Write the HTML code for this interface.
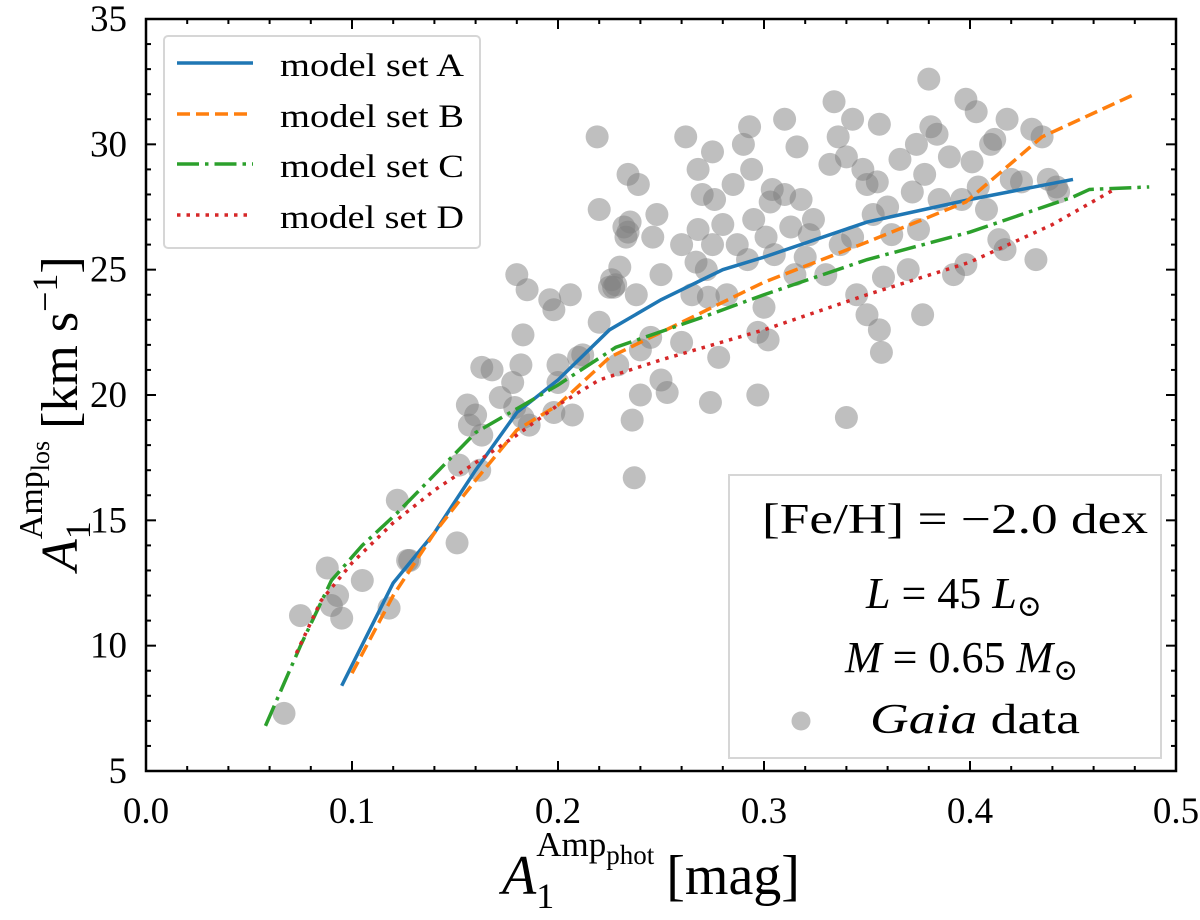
<!DOCTYPE html>
<html><head><meta charset="utf-8"><style>
html,body{margin:0;padding:0;background:#fff;}
svg{display:block;font-family:"Liberation Serif","DejaVu Serif",serif;}
</style></head><body>
<svg id="chart" width="1200" height="920" viewBox="0 0 1200 920">
<g id="plot"></g>
</svg>
<script>
const xTicks=[0.0,0.1,0.2,0.3,0.4,0.5];
const yTicks=[5,10,15,20,25,30,35];
const gaiaX=[0.067,0.075,0.088,0.09,0.093,0.095,0.105,0.118,0.122,0.127,0.128,0.151,0.152,0.156,0.157,0.16,0.162,0.163,0.163,0.168,0.172,0.178,0.179,0.18,0.182,0.183,0.183,0.185,0.186,0.196,0.198,0.198,0.2,0.206,0.207,0.21,0.212,0.2,0.219,0.22,0.22,0.225,0.226,0.227,0.228,0.229,0.23,0.232,0.233,0.234,0.235,0.234,0.236,0.237,0.238,0.239,0.24,0.24,0.245,0.246,0.248,0.25,0.25,0.253,0.26,0.26,0.262,0.265,0.267,0.268,0.268,0.27,0.272,0.273,0.274,0.275,0.275,0.276,0.278,0.28,0.282,0.285,0.287,0.29,0.292,0.293,0.294,0.295,0.297,0.297,0.3,0.301,0.302,0.303,0.304,0.305,0.31,0.31,0.313,0.315,0.316,0.318,0.32,0.322,0.324,0.33,0.332,0.334,0.336,0.337,0.34,0.34,0.343,0.343,0.345,0.348,0.35,0.35,0.353,0.355,0.356,0.356,0.357,0.358,0.36,0.362,0.366,0.37,0.372,0.374,0.375,0.377,0.378,0.38,0.381,0.384,0.385,0.39,0.392,0.396,0.398,0.398,0.401,0.403,0.404,0.408,0.41,0.412,0.414,0.417,0.418,0.42,0.425,0.43,0.432,0.435,0.438,0.442,0.443];
const gaiaY=[7.3,11.2,13.1,11.6,12.0,11.1,12.6,11.5,15.8,13.4,13.4,14.1,17.2,19.6,18.8,19.2,17.0,18.4,21.1,21.0,19.9,20.5,19.5,24.8,21.2,19.1,22.4,24.2,18.8,23.8,23.4,19.3,21.2,24.0,19.2,21.5,21.6,20.5,30.3,22.9,27.4,24.3,24.6,24.3,24.4,21.2,25.1,26.7,26.3,26.5,26.9,28.8,19.0,16.7,24.0,28.4,21.8,20.0,22.3,26.3,27.2,20.6,24.8,20.1,26.0,22.1,30.3,24.0,25.3,26.6,29.0,28.0,25.0,23.9,19.7,29.7,26.0,27.8,21.5,26.8,24.0,28.4,26.0,30.0,25.4,30.7,29.0,27.0,22.5,20.0,23.5,26.3,22.2,27.7,28.2,25.6,31.0,28.0,26.7,24.8,29.9,27.8,25.5,26.4,27.0,24.8,29.2,31.7,30.3,26.0,29.5,19.1,26.3,31.0,24.0,29.0,28.4,23.2,27.2,28.5,30.8,22.6,21.7,24.7,27.5,26.4,29.4,25.0,28.1,30.0,26.6,23.2,28.8,32.6,30.7,30.4,27.8,29.5,24.8,27.8,25.2,31.8,29.3,31.3,28.3,27.4,30.0,30.2,26.2,25.8,31.0,28.6,28.5,30.6,25.4,30.3,28.6,28.3,28.1];
const aX=[0.095,0.12,0.14,0.16,0.18,0.2,0.225,0.25,0.28,0.3,0.35,0.4,0.45];
const aY=[8.4,12.5,14.5,17.0,19.3,20.6,22.6,23.8,25.0,25.5,26.9,27.8,28.6];
const bX=[0.1,0.12,0.14,0.16,0.18,0.2,0.225,0.25,0.3,0.35,0.398,0.435,0.48];
const bY=[8.9,12.0,14.5,16.6,18.6,19.6,21.5,22.5,24.5,26.1,27.7,30.3,32.0];
const cX=[0.058,0.075,0.09,0.105,0.122,0.16,0.2,0.228,0.27,0.3,0.35,0.4,0.45,0.458,0.487];
const cY=[6.8,10.0,12.6,14.0,15.3,18.5,20.4,21.9,23.1,24.0,25.4,26.5,27.9,28.2,28.3];
const dX=[0.073,0.085,0.1,0.12,0.14,0.16,0.18,0.2,0.22,0.25,0.3,0.35,0.4,0.44,0.47];
const dY=[9.7,11.8,13.3,14.9,16.2,17.3,18.4,19.6,20.6,21.4,22.6,24.0,25.3,26.8,28.2];

const L=146,R=1176,T=19,B=771;
const sx=v=>L+(v-0)/(0.5-0)*(R-L);
const sy=v=>B-(v-5)/(35-5)*(B-T);
const NS='http://www.w3.org/2000/svg';
const g=document.getElementById('plot');
function mk(tag,attrs,parent){const e=document.createElementNS(NS,tag);for(const k in attrs)e.setAttribute(k,attrs[k]);(parent||g).appendChild(e);return e;}

const sg=mk('g',{});


for(let i=0;i<gaiaX.length;i++){
  const c=mk('circle',{cx:sx(gaiaX[i]),cy:sy(gaiaY[i]),r:11.5,fill:'#808080','fill-opacity':0.5},sg);
  
  
}
function line(xs,ys,color,dash,name){
  const p=xs.map((x,i)=>sx(x)+','+sy(ys[i])).join(' ');
  const e=mk('polyline',{points:p,fill:'none',stroke:color,'stroke-width':3.5,'stroke-dasharray':dash});
  
  
}
line(aX,aY,'#1f77b4','none','line-model-a');
line(bX,bY,'#ff7f0e','13 6','line-model-b');
line(cX,cY,'#2ca02c','22 6 3.5 6','line-model-c');
line(dX,dY,'#d62728','3.5 6','line-model-d');

const fr=mk('rect',{x:L,y:T,width:R-L,height:B-T,fill:'none',stroke:'#000','stroke-width':2.5});


for(let v=0;v<=0.5001;v+=0.02){
  const x=sx(v);const major=Math.abs(v*10-Math.round(v*10))<1e-6;const len=major?10:5;
  mk('line',{x1:x,y1:B,x2:x,y2:B-len,stroke:'#000','stroke-width':2});
  mk('line',{x1:x,y1:T,x2:x,y2:T+len,stroke:'#000','stroke-width':2});
}
for(let v=5;v<=35;v++){
  const y=sy(v);const len=v%5===0?10:5;
  mk('line',{x1:L,y1:y,x2:L+len,y2:y,stroke:'#000','stroke-width':2});
  mk('line',{x1:R,y1:y,x2:R-len,y2:y,stroke:'#000','stroke-width':2});
}
xTicks.forEach(v=>{const t=mk('text',{x:sx(v),y:B+52,'text-anchor':'middle','font-size':37});t.textContent=v.toFixed(1);
  });
yTicks.forEach(v=>{const t=mk('text',{x:L-19,y:sy(v)+12,'text-anchor':'end','font-size':37});t.textContent=v;
  });
</script>
<svg width="1200" height="920" style="position:absolute;left:0;top:0;font-family:'Liberation Serif','DejaVu Serif',serif">
 <g>
  <rect x="164" y="36" width="316" height="212" rx="4" fill="#fff" fill-opacity="0.85" stroke="#d6d6d6" stroke-width="2"/>
  <line x1="177" y1="63" x2="253" y2="63" stroke="#1f77b4" stroke-width="3.5"/>
  <text x="280" y="76" font-size="33" textLength="184" lengthAdjust="spacingAndGlyphs">model set A</text>
  <line x1="177" y1="114" x2="253" y2="114" stroke="#ff7f0e" stroke-width="3.5" stroke-dasharray="13 6"/>
  <text x="280" y="127" font-size="33" textLength="184" lengthAdjust="spacingAndGlyphs">model set B</text>
  <line x1="177" y1="164" x2="253" y2="164" stroke="#2ca02c" stroke-width="3.5" stroke-dasharray="22 6 3.5 6"/>
  <text x="280" y="177" font-size="33" textLength="184" lengthAdjust="spacingAndGlyphs">model set C</text>
  <line x1="177" y1="215" x2="253" y2="215" stroke="#d62728" stroke-width="3.5" stroke-dasharray="3.5 6"/>
  <text x="280" y="228" font-size="33" textLength="184" lengthAdjust="spacingAndGlyphs">model set D</text>
 </g>
 <g>
  <rect x="729" y="475" width="432" height="283" fill="#fff" fill-opacity="0.85" stroke="#d6d6d6" stroke-width="2"/>
  <text x="762" y="533" font-size="42" textLength="386" lengthAdjust="spacingAndGlyphs">[Fe/H] = −2.0 dex</text>
  <text x="866" y="608" font-size="44"><tspan font-style="italic">L</tspan> = 45 <tspan font-style="italic">L</tspan><tspan font-size="30" dy="8">⊙</tspan></text>
  <text x="845" y="672" font-size="44"><tspan font-style="italic">M</tspan> = 0.65 <tspan font-style="italic">M</tspan><tspan font-size="30" dy="8">⊙</tspan></text>
  <circle cx="801" cy="721" r="9.5" fill="#808080" fill-opacity="0.5"/>
  <text x="870" y="733" font-size="42" textLength="210" lengthAdjust="spacingAndGlyphs"><tspan font-style="italic">Gaia</tspan> data</text>
 </g>
 <text x="502" y="894" font-size="56"><tspan font-style="italic">A</tspan><tspan font-size="36" dy="14">1</tspan><tspan font-size="35" dy="-52" dx="-18">Amp</tspan><tspan font-size="27" dy="8">phot</tspan><tspan dy="30" dx="12">[mag]</tspan></text>
 <g transform="translate(77,395) rotate(-90)">
  <text x="-176" y="0" font-size="52"><tspan font-style="italic">A</tspan><tspan font-size="36" dy="13">1</tspan><tspan font-size="34" dy="-48" dx="-18">Amp</tspan><tspan font-size="26" dy="7">los</tspan><tspan dy="28" dx="12">[km s</tspan><tspan font-size="36" dy="-20">−1</tspan><tspan dy="20">]</tspan></text>
 </g>
</svg>
</body></html>
